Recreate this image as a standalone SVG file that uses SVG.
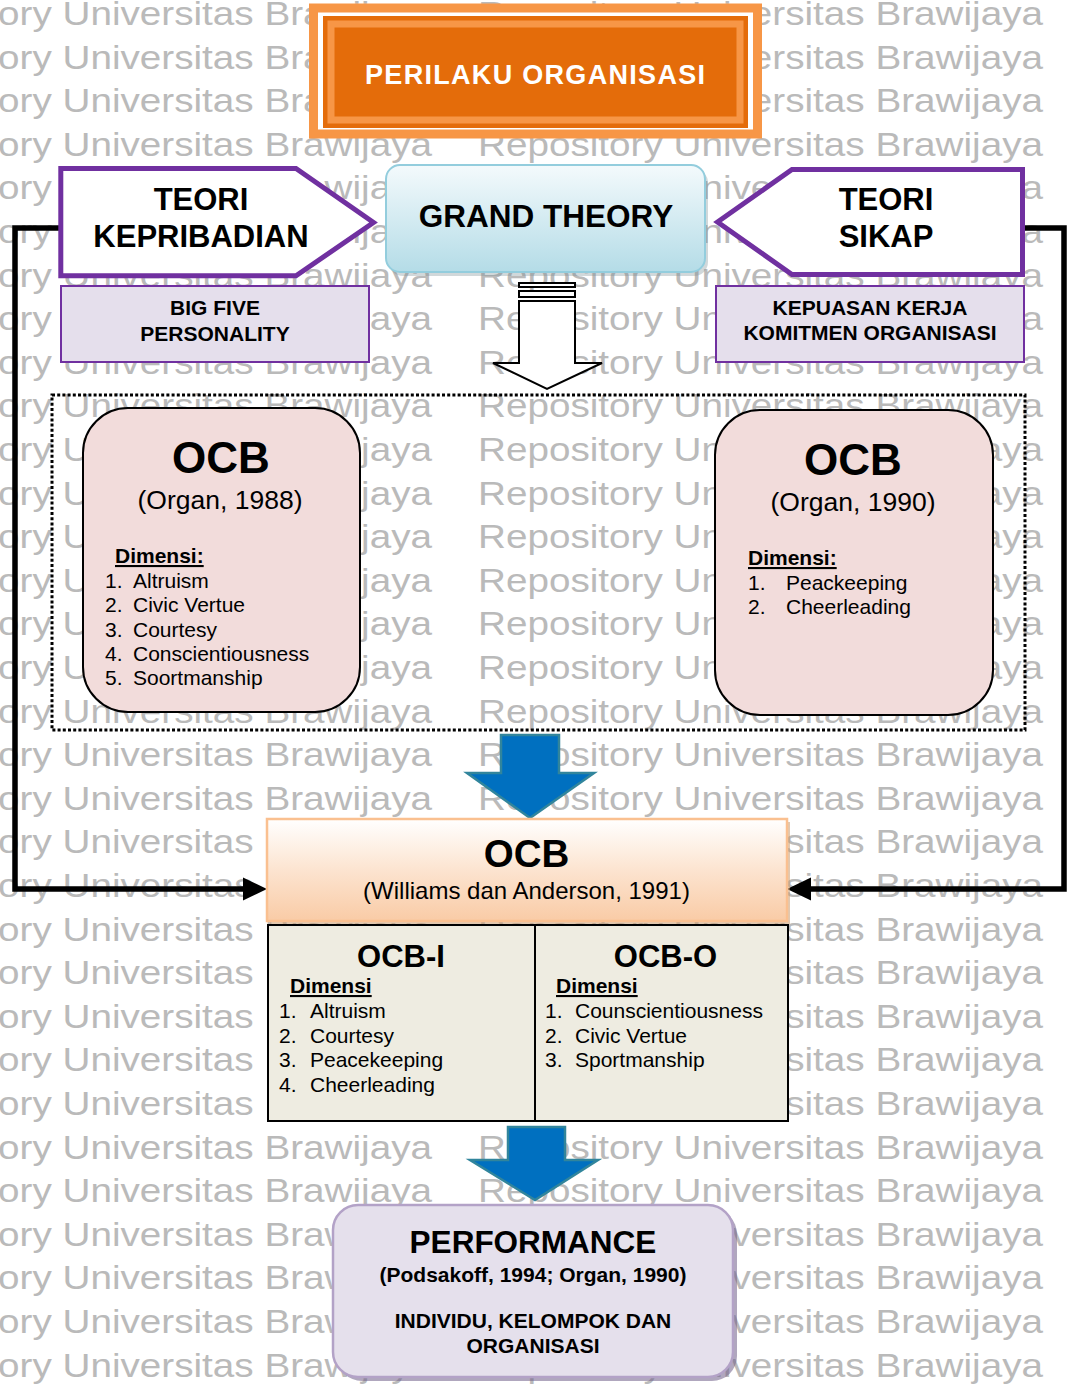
<svg xmlns="http://www.w3.org/2000/svg" width="1070" height="1385" viewBox="0 0 1070 1385">
<defs>
<style>
text{font-family:"Liberation Sans",Arial,Helvetica,sans-serif;fill:#000}
.wm{font-size:32.5px;fill:#bababa}
.b{font-weight:bold}
.c{text-anchor:middle}
.t21{font-size:21px}
.u{text-decoration:underline}
.tab{fill:#fff;stroke:#7030A0;stroke-width:5}
.sub{fill:#E5DFEC;stroke:#7030A0;stroke-width:2}
.ocb{fill:#F2DCDB;stroke:#000;stroke-width:2}
.blue{fill:#0070C0;stroke:#31859C;stroke-width:2.5}
.conn{fill:none;stroke:#000;stroke-width:5.5}
.hollow{fill:#fff;stroke:#000;stroke-width:2}
</style>
<linearGradient id="gBlue" x1="0" y1="0" x2="0" y2="1">
<stop offset="0" stop-color="#F4FAFC"/>
<stop offset="1" stop-color="#B4DCE7"/>
</linearGradient>
<linearGradient id="gPeach" x1="0" y1="0" x2="0" y2="1">
<stop offset="0" stop-color="#FFFFFF"/>
<stop offset="0.5" stop-color="#FCE4D0"/>
<stop offset="1" stop-color="#F9CBA6"/>
</linearGradient>
<g id="wmrow">
<text class="wm" x="-133" textLength="565" lengthAdjust="spacingAndGlyphs">Repository Universitas Brawijaya</text>
<text class="wm" x="478" textLength="565" lengthAdjust="spacingAndGlyphs">Repository Universitas Brawijaya</text>
</g>
</defs>

<rect width="1070" height="1385" fill="#fff"/>

<!-- background lettering -->
<g id="watermark">
<use href="#wmrow" y="25"/><use href="#wmrow" y="68.6"/><use href="#wmrow" y="112.2"/><use href="#wmrow" y="155.8"/>
<use href="#wmrow" y="199.4"/><use href="#wmrow" y="243"/><use href="#wmrow" y="286.6"/><use href="#wmrow" y="330.2"/>
<use href="#wmrow" y="373.8"/><use href="#wmrow" y="417.4"/><use href="#wmrow" y="461"/><use href="#wmrow" y="504.6"/>
<use href="#wmrow" y="548.2"/><use href="#wmrow" y="591.8"/><use href="#wmrow" y="635.4"/><use href="#wmrow" y="679"/>
<use href="#wmrow" y="722.6"/><use href="#wmrow" y="766.2"/><use href="#wmrow" y="809.8"/><use href="#wmrow" y="853.4"/>
<use href="#wmrow" y="897"/><use href="#wmrow" y="940.6"/><use href="#wmrow" y="984.2"/><use href="#wmrow" y="1027.8"/>
<use href="#wmrow" y="1071.4"/><use href="#wmrow" y="1115"/><use href="#wmrow" y="1158.6"/><use href="#wmrow" y="1202.2"/>
<use href="#wmrow" y="1245.8"/><use href="#wmrow" y="1289.4"/><use href="#wmrow" y="1333"/><use href="#wmrow" y="1376.6"/>
</g>

<!-- dotted frame around the two OCB definitions -->
<g id="ocb-frame">
<rect x="52" y="395" width="973" height="335" fill="none" stroke="#000" stroke-width="3" stroke-dasharray="3 2.2"/>
</g>

<!-- connectors -->
<g id="connectors">
<polyline class="conn" points="60,228 15,228 15,889 244,889"/>
<polygon points="243,877.5 267,889 243,900.5" fill="#000"/>
<polyline class="conn" points="1022,228 1064,228 1064,889 810,889"/>
<polygon points="811,877.5 787,889 811,900.5" fill="#000"/>
<rect class="hollow" x="519" y="283" width="56" height="4"/>
<rect class="hollow" x="519" y="291" width="56" height="6"/>
<polygon class="hollow" points="519,301 575,301 575,363 602,363 547,389 493,363 519,363"/>
<polygon class="blue" points="501,735 559,735 559,773 594,773 530,818 467,773 501,773"/>
<polygon class="blue" points="508,1127 565,1127 565,1160 598,1160 535,1200 470,1160 508,1160"/>
</g>

<g id="perilaku-organisasi">
<rect x="313.5" y="8" width="444" height="126" fill="#fff" stroke="#F79646" stroke-width="9"/>
<rect x="323" y="16" width="425" height="112" fill="#E46C0A"/>
<rect x="331" y="24" width="409" height="96" fill="none" stroke="#F79646" stroke-width="7"/>
<text class="b c" x="535" y="84" font-size="27" style="fill:#fff" textLength="340">PERILAKU ORGANISASI</text>
</g>

<g id="grand-theory">
<rect x="389" y="169" width="319" height="107" rx="14" fill="#7a8f96" opacity="0.35"/>
<rect x="386" y="165" width="319" height="107" rx="14" fill="url(#gBlue)" stroke="#93CDDD" stroke-width="2"/>
<text class="b c" x="546" y="227" font-size="31.5">GRAND THEORY</text>
</g>

<g id="teori-kepribadian">
<polygon class="tab" points="60.8,168.5 296,168.5 373.5,222.5 296,275.8 60.8,275.8"/>
<text class="b c" x="201" y="210" font-size="31">TEORI</text>
<text class="b c" x="201" y="247" font-size="31">KEPRIBADIAN</text>
</g>

<g id="teori-sikap">
<polygon class="tab" points="717.5,222 792,169.5 1022.5,169.5 1022.5,274.5 792,274.5"/>
<text class="b c" x="886" y="210" font-size="31">TEORI</text>
<text class="b c" x="886" y="247" font-size="31">SIKAP</text>
</g>

<g id="big-five">
<rect class="sub" x="61" y="286" width="308" height="76"/>
<text class="b c t21" x="215" y="315">BIG FIVE</text>
<text class="b c t21" x="215" y="341">PERSONALITY</text>
</g>

<g id="kepuasan-komitmen">
<rect class="sub" x="716" y="286" width="308" height="76"/>
<text class="b c t21" x="870" y="315">KEPUASAN KERJA</text>
<text class="b c t21" x="870" y="340">KOMITMEN ORGANISASI</text>
</g>

<g id="ocb-organ-1988">
<rect class="ocb" x="83" y="408" width="277" height="304" rx="45"/>
<text class="b c" x="221" y="473" font-size="44">OCB</text>
<text class="c" x="220" y="509" font-size="26.5">(Organ, 1988)</text>
<text class="b u t21" x="115" y="563">Dimensi:</text>
<text class="t21" x="105" y="588">1.</text><text class="t21" x="133" y="588">Altruism</text>
<text class="t21" x="105" y="612.3">2.</text><text class="t21" x="133" y="612.3">Civic Vertue</text>
<text class="t21" x="105" y="636.6">3.</text><text class="t21" x="133" y="636.6">Courtesy</text>
<text class="t21" x="105" y="660.9">4.</text><text class="t21" x="133" y="660.9">Conscientiousness</text>
<text class="t21" x="105" y="685.2">5.</text><text class="t21" x="133" y="685.2">Soortmanship</text>
</g>

<g id="ocb-organ-1990">
<rect class="ocb" x="715" y="410" width="278" height="305" rx="45"/>
<text class="b c" x="853" y="475" font-size="44">OCB</text>
<text class="c" x="853" y="511" font-size="26.5">(Organ, 1990)</text>
<text class="b u t21" x="748" y="565">Dimensi:</text>
<text class="t21" x="748" y="590">1.</text><text class="t21" x="786" y="590">Peackeeping</text>
<text class="t21" x="748" y="614">2.</text><text class="t21" x="786" y="614">Cheerleading</text>
</g>

<g id="ocb-williams-anderson">
<rect x="270" y="822" width="520" height="102" fill="#C99A70" opacity="0.55"/>
<rect x="267" y="819" width="520" height="102" fill="url(#gPeach)" stroke="#FAC090" stroke-width="2.5"/>
<text class="b c" x="526.5" y="867" font-size="38.5">OCB</text>
<text class="c" x="526.5" y="899" font-size="24">(Williams dan Anderson, 1991)</text>
</g>

<g id="ocb-i-ocb-o">
<rect x="268" y="925" width="520" height="196" fill="#EEECE1" stroke="#000" stroke-width="2"/>
<line x1="535" y1="925" x2="535" y2="1121" stroke="#000" stroke-width="2"/>
<text class="b c" x="401" y="967" font-size="31">OCB-I</text>
<text class="b u t21" x="290" y="993">Dimensi</text>
<text class="t21" x="279" y="1018">1.</text><text class="t21" x="310" y="1018">Altruism</text>
<text class="t21" x="279" y="1042.5">2.</text><text class="t21" x="310" y="1042.5">Courtesy</text>
<text class="t21" x="279" y="1067">3.</text><text class="t21" x="310" y="1067">Peacekeeping</text>
<text class="t21" x="279" y="1091.5">4.</text><text class="t21" x="310" y="1091.5">Cheerleading</text>
<text class="b c" x="665.5" y="967" font-size="31">OCB-O</text>
<text class="b u t21" x="556" y="993">Dimensi</text>
<text class="t21" x="545" y="1018">1.</text><text class="t21" x="575" y="1018">Counscientiousness</text>
<text class="t21" x="545" y="1042.5">2.</text><text class="t21" x="575" y="1042.5">Civic Vertue</text>
<text class="t21" x="545" y="1067">3.</text><text class="t21" x="575" y="1067">Sportmanship</text>
</g>

<g id="performance">
<rect x="337" y="1209" width="400" height="172" rx="25" fill="#6F5F88" opacity="0.55"/>
<rect x="333" y="1205" width="400" height="172" rx="25" fill="#E5E0EC" stroke="#B3A2C7" stroke-width="2.5"/>
<text class="b c" x="533" y="1253" font-size="31.5">PERFORMANCE</text>
<text class="b c t21" x="533" y="1282">(Podsakoff, 1994; Organ, 1990)</text>
<text class="b c t21" x="533" y="1328">INDIVIDU, KELOMPOK DAN</text>
<text class="b c t21" x="533" y="1353">ORGANISASI</text>
</g>
</svg>
